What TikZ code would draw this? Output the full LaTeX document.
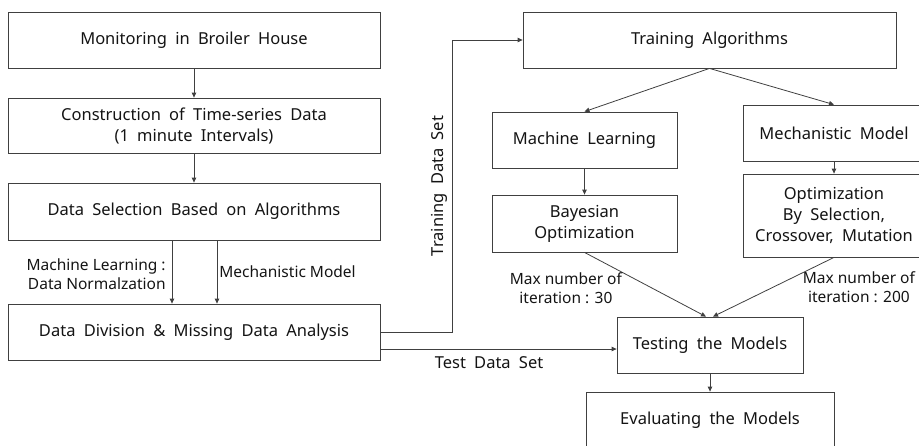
\documentclass[tikz,border=0pt]{standalone}
\usepackage{fontspec}
\setmainfont{Noto Sans}
\usetikzlibrary{arrows.meta, positioning, calc}
\definecolor{FlowLine}{HTML}{404040}
\definecolor{FlowText}{HTML}{141414}
\DeclareRobustCommand\flowboxfont{\fontsize{16.5}{21}\selectfont\spaceskip 0.5em\relax}
\DeclareRobustCommand\flownotefont{\fontsize{15.5}{19}\selectfont}
\tikzset{
    % plain boxes of the flow chart
    process/.style={
        rectangle,
        draw=FlowLine,
        fill=white,
        line width=0.8pt,
        minimum height=56pt,
        align=center,
        text=FlowText,
        font=\flowboxfont
    },
    % small labels beside the connectors
    flow note/.style={
        align=center,
        text=FlowText,
        inner sep=2pt,
        font=\flownotefont
    },
    arrow style/.style={
        -{Triangle[length=5pt,width=4.5pt]},
        line width=0.8pt,
        FlowLine
    }
}

\begin{document}
\begin{tikzpicture}[x=1pt, y=-1pt]
        \useasboundingbox (0,0) rectangle (919,445);

        % Data preparation (left column)
        \node[process, minimum width=372pt] (monitoring) at (194, 40) {Monitoring in Broiler House};
        \node[process, minimum width=372pt, minimum height=55pt] (construction) at (194, 125.5) {Construction of Time-series Data\\(1 minute Intervals)};
        \node[process, minimum width=372pt, minimum height=57pt] (selection) at (194, 211.5) {Data Selection Based on Algorithms};
        \node[process, minimum width=372pt] (division) at (194, 332) {Data Division \& Missing Data Analysis};

        \draw[arrow style] (monitoring) -- (construction);
        \draw[arrow style] (construction) -- (selection);
        \draw[arrow style] ([xshift=-22pt]selection.south) -- node[flow note, left=4pt, align=right, yshift=-2pt] {Machine Learning :\\Data Normalzation} ([xshift=-22pt]division.north);
        \draw[arrow style] ([xshift=23pt]selection.south) -- node[flow note, right] {Mechanistic Model} ([xshift=23pt]division.north);

        % Training (right side)
        \node[process, minimum width=373pt] (training) at (709.5, 40) {Training Algorithms};
        \node[process, minimum width=185pt] (ml) at (584.5, 140) {Machine Learning};
        \node[process, minimum width=182pt] (mechanistic) at (834, 133) {Mechanistic Model};
        \node[process, minimum width=185pt, minimum height=57pt] (bayesian) at (584.5, 223.5) {Bayesian\\Optimization};
        \node[process, minimum width=182pt, minimum height=83pt] (genetic) at (834, 215.5) {Optimization\\By Selection,\\Crossover, Mutation};

        \draw[arrow style] (division.east) -- ++(72,0) |- node[flow note, pos=0.25, sloped, above=3pt, font=\flowboxfont] {Training Data Set} (training.west);
        \draw[arrow style] (training.south) -- (ml.north);
        \draw[arrow style] (training.south) -- (mechanistic.north);
        \draw[arrow style] (ml) -- (bayesian);
        \draw[arrow style] (mechanistic) -- (genetic);

        % Testing and evaluation
        \node[process, minimum width=186pt] (testing) at (710, 345) {Testing the Models};
        \node[process, minimum width=248pt] (evaluating) at (710, 420) {Evaluating the Models};

        \draw[arrow style] ([yshift=-17pt]division.east) -- node[flow note, pos=0.46, below=5pt, font=\flowboxfont] {Test Data Set} ([yshift=-17pt]division.east -| testing.west);
        \draw[arrow style] (bayesian.south) -- node[flow note, pos=0.55, left=27pt] {Max number of\\iteration : 30} ([xshift=-4pt]testing.north);
        \draw[arrow style] (genetic.south) -- node[flow note, pos=0.5, right=27pt] {Max number of\\iteration : 200} ([xshift=3pt]testing.north);
        \draw[arrow style] (testing) -- (evaluating);
    \end{tikzpicture}
\end{document}
